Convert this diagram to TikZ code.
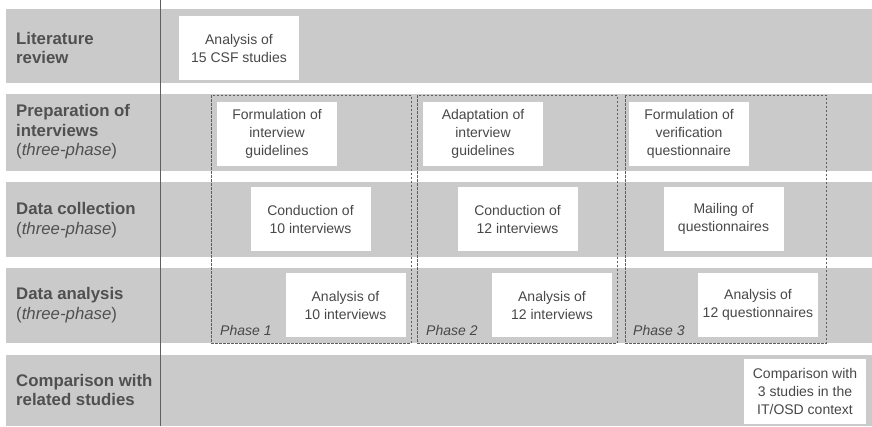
\documentclass[tikz,border=0pt]{standalone}
\usepackage{fontspec}
\setmainfont{Liberation Sans}
\definecolor{bandgray}{RGB}{202,202,202}
\definecolor{labelink}{RGB}{80,80,80}
\definecolor{boxink}{RGB}{72,72,72}
\definecolor{frameink}{RGB}{95,95,95}
\begin{document}
\begin{tikzpicture}[x=1pt,y=-1pt,
  band/.style={fill=bandgray,draw=none},
  rowlabel/.style={anchor=west,align=left,inner sep=0pt,text=labelink,
    font=\fontsize{16.8}{19.5}\selectfont},
  taskbox/.style={fill=white,draw=none,minimum width=120pt,minimum height=64pt,
    align=center,inner sep=0pt,text=boxink,font=\fontsize{14}{18}\selectfont},
  phaseframe/.style={draw=frameink,line width=0.9pt,dash pattern=on 2.5pt off 1.5pt},
  phasetag/.style={anchor=base west,inner sep=0pt,text=boxink,
    font=\fontsize{14}{16}\selectfont\itshape}]
  \useasboundingbox (0,0) rectangle (872,426);
  \fill[white] (0,0) rectangle (872,426);

  % horizontal swim lanes
  \fill[band] (6,9) rectangle (872,83);
  \fill[band] (6,94) rectangle (872,171);
  \fill[band] (6,182) rectangle (872,257);
  \fill[band] (6,268) rectangle (872,343);
  \fill[band] (6,355) rectangle (872,426);

  % separator between lane titles and activities
  \draw[frameink,line width=1pt] (160,0) -- (160,426);

  % lane titles
  \node[rowlabel] (lit) at (16,48) {\bfseries Literature\\\bfseries review};
  \node[rowlabel] (prep) at (16,132) {\bfseries Preparation of\\\bfseries interviews\\(\textit{three-phase})};
  \node[rowlabel] (coll) at (16,220) {\bfseries Data collection\\(\textit{three-phase})};
  \node[rowlabel] (anal) at (16,305) {\bfseries Data analysis\\(\textit{three-phase})};
  \node[rowlabel] (comp) at (16,390) {\bfseries Comparison with\\\bfseries related studies};

  % phase frames
  \draw[phaseframe] (211,95) rectangle (411,343);
  \draw[phaseframe] (417,95) rectangle (617,343);
  \draw[phaseframe] (625,95) rectangle (826,343);
  \node[phasetag] (ph1) at (220,335) {Phase 1};
  \node[phasetag] (ph2) at (426,335) {Phase 2};
  \node[phasetag] (ph3) at (633,335) {Phase 3};

  % activities
  \node[taskbox] (csf) at (239,48) {Analysis of\\15 CSF studies};
  \node[taskbox] (form1) at (277,133.5) {Formulation of\\interview\\guidelines};
  \node[taskbox] (adapt) at (483,133.5) {Adaptation of\\interview\\guidelines};
  \node[taskbox] (form3) at (689,133.5) {Formulation of\\verification\\questionnaire};
  \node[taskbox] (cond1) at (310.5,219) {Conduction of\\10 interviews};
  \node[taskbox] (cond2) at (517.5,219) {Conduction of\\12 interviews};
  \node[taskbox] (mail) at (723.5,219) {Mailing of\\questionnaires};
  \node[taskbox] (ana1) at (345.5,305) {Analysis of\\10 interviews};
  \node[taskbox] (ana2) at (552,305) {Analysis of\\12 interviews};
  \node[taskbox] (ana3) at (758,305) {Analysis of\\12 questionnaires};
  \node[taskbox,minimum width=122pt,minimum height=65pt] (cmp) at (805,391.5) {Comparison with\\3 studies in the\\IT/OSD context};
\end{tikzpicture}
\end{document}
